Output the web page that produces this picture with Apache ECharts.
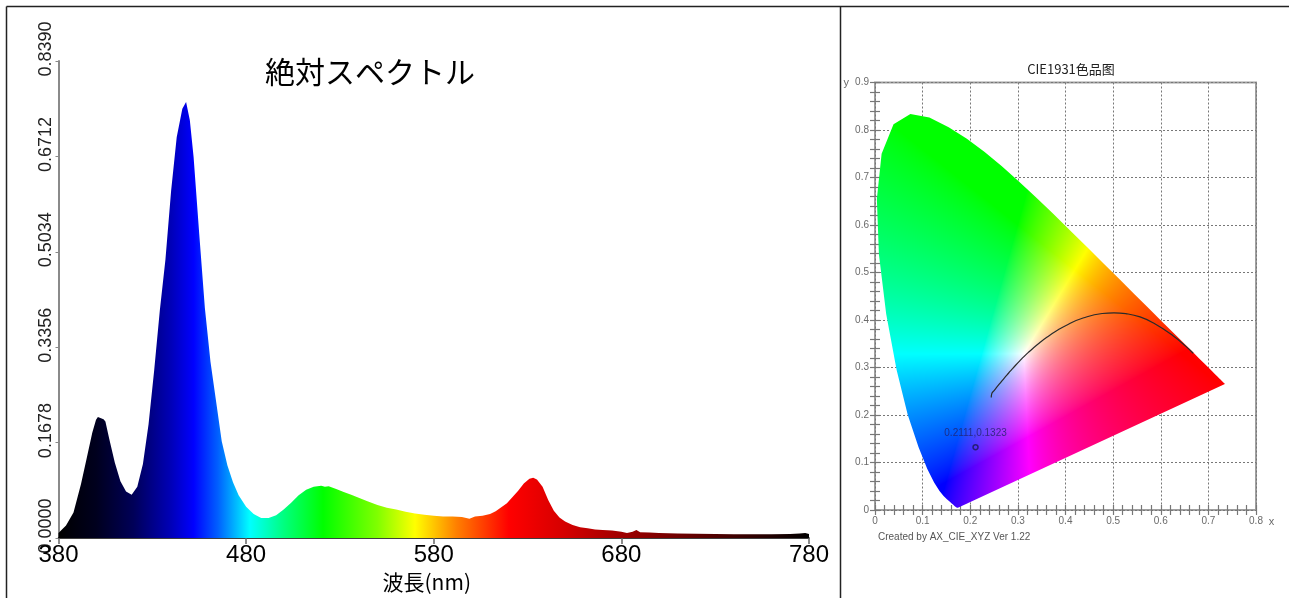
<!DOCTYPE html>
<html><head><meta charset="utf-8">
<script src="https://cdn.jsdelivr.net/npm/echarts@6.0.0/dist/echarts.min.js"></script>
<style>html,body{margin:0;padding:0;background:#fff}#c{width:1289px;height:598px}</style>
</head><body><div id="c"></div>
<script>
// ---- Spectrum (left panel) ----
const wavelengths = [380,384,388,392,395,398,400,401,404,405,407,410,413,416,419,422,425,428,431,434,437,440,443,446,448,450,452,455,458,461,464,467,470,473,476,480,484,488,492,496,500,504,508,512,516,520,522,524,528,532,536,540,545,550,555,560,565,570,575,580,585,590,595,599,602,606,610,613,616,619,622,625,628,631,633,635,638,641,644,647,650,654,658,662,666,670,675,680,683,686,688,690,695,700,710,720,730,740,750,760,770,775,778,780];
const intensity  = [0.009,0.022,0.045,0.095,0.140,0.185,0.208,0.213,0.209,0.205,0.175,0.133,0.100,0.082,0.076,0.090,0.130,0.200,0.295,0.400,0.490,0.610,0.705,0.755,0.767,0.735,0.670,0.535,0.405,0.310,0.240,0.170,0.128,0.098,0.075,0.055,0.042,0.035,0.035,0.040,0.050,0.062,0.075,0.085,0.090,0.092,0.090,0.091,0.086,0.081,0.076,0.071,0.064,0.058,0.053,0.050,0.046,0.043,0.041,0.039,0.038,0.038,0.037,0.034,0.038,0.039,0.042,0.047,0.054,0.061,0.072,0.083,0.096,0.104,0.106,0.103,0.090,0.067,0.048,0.036,0.029,0.023,0.019,0.017,0.015,0.014,0.013,0.011,0.009,0.011,0.014,0.010,0.0095,0.009,0.008,0.0075,0.007,0.0068,0.0065,0.0068,0.007,0.008,0.009,0.007];
const xTickInterval = 100;
const yTickInterval = 0.1678;
const yMax = 0.8390;
const spectrumTitle = '絶対スペクトル';
const spectrumXName = '波長(nm)';
// colour of each wavelength (for the fill gradient)
const gradWavelengths = [380,400,420,440,452,465,482,500,521,550,570,592,620,650,680,730,780];
const gradColors = ['#000000','#00001e','#000058','#0000b8','#0000ff','#0060ff','#00ffff','#00ff80','#00ff00','#80ff00','#ffff00','#ff8000','#ff0000','#d40000','#a00000','#500000','#000000'];

// ---- CIE 1931 (right panel) ----
const cieTitle = 'CIE1931色品图';
const cieFooter = 'Created by AX_CIE_XYZ Ver 1.22';
const locusX = [0.1741,0.1740,0.1738,0.1736,0.1733,0.1730,0.1726,0.1721,0.1714,0.1703,0.1689,0.1669,0.1644,0.1611,0.1566,0.1510,0.1440,0.1355,0.1241,0.1096,0.0913,0.0687,0.0454,0.0235,0.0082,0.0039,0.0139,0.0389,0.0743,0.1142,0.1547,0.1929,0.2296,0.2658,0.3016,0.3373,0.3731,0.4087,0.4441,0.4788,0.5125,0.5448,0.5752,0.6029,0.6270,0.6482,0.6658,0.6801,0.6915,0.7006,0.7079,0.7140,0.7190,0.7230,0.7260,0.7283,0.7300,0.7311,0.7320,0.7327,0.7334,0.7344,0.7347];
const locusY = [0.0050,0.0050,0.0049,0.0049,0.0048,0.0048,0.0048,0.0048,0.0051,0.0058,0.0069,0.0086,0.0109,0.0138,0.0177,0.0227,0.0297,0.0399,0.0578,0.0868,0.1327,0.2007,0.2950,0.4127,0.5384,0.6548,0.7502,0.8120,0.8338,0.8262,0.8059,0.7816,0.7543,0.7243,0.6923,0.6589,0.6245,0.5896,0.5547,0.5202,0.4866,0.4544,0.4242,0.3965,0.3725,0.3514,0.3340,0.3197,0.3083,0.2993,0.2920,0.2859,0.2809,0.2770,0.2740,0.2717,0.2700,0.2689,0.2680,0.2673,0.2666,0.2656,0.2653];
const planckX = [0.2441,0.2452,0.2501,0.2565,0.2637,0.2719,0.2807,0.2869,0.2952,0.3064,0.3135,0.3221,0.3325,0.3451,0.3608,0.3805,0.4053,0.4369,0.4770,0.5018,0.5267,0.5565,0.5857,0.6251,0.6528,0.6680];
const planckY = [0.2370,0.2450,0.2513,0.2595,0.2683,0.2783,0.2884,0.2956,0.3048,0.3165,0.3236,0.3318,0.3411,0.3516,0.3636,0.3768,0.3907,0.4041,0.4137,0.4151,0.4133,0.4065,0.3931,0.3674,0.3444,0.3300];
const samplePoint = [0.2111, 0.1323];
const sampleLabel = '0.2111,0.1323';

const chart = echarts.init(document.getElementById('c'));

function xyToRGB(x, y) {
  if (y <= 0.0001) return [0,0,255];
  const X = x / y, Y = 1, Z = (1 - x - y) / y;
  let r =  3.2406*X - 1.5372*Y - 0.4986*Z;
  let g = -0.9689*X + 1.8758*Y + 0.0415*Z;
  let b =  0.0557*X - 0.2040*Y + 1.0570*Z;
  r = Math.max(0, r); g = Math.max(0, g); b = Math.max(0, b);
  const m = Math.max(r, g, b) || 1;
  const gam = c => Math.pow(c / m, 0.75);
  return [Math.round(255*gam(r)), Math.round(255*gam(g)), Math.round(255*gam(b))];
}

function renderLocus(params, api) {
  const pts = locusX.map((x, i) => api.coord([x, locusY[i]]));
  let minX = Infinity, minY = Infinity, maxX = -Infinity, maxY = -Infinity;
  pts.forEach(p => { minX = Math.min(minX, p[0]); maxX = Math.max(maxX, p[0]); minY = Math.min(minY, p[1]); maxY = Math.max(maxY, p[1]); });
  minX = Math.floor(minX) - 1; minY = Math.floor(minY) - 1; maxX = Math.ceil(maxX) + 1; maxY = Math.ceil(maxY) + 1;
  const w = maxX - minX, h = maxY - minY;
  const o = api.coord([0, 0]), e = api.coord([0.8, 0.9]);
  const sx = (e[0] - o[0]) / 0.8, sy = (e[1] - o[1]) / 0.9;
  const cv = document.createElement('canvas');
  cv.width = w; cv.height = h;
  const ctx = cv.getContext('2d');
  const img = ctx.createImageData(w, h);
  for (let j = 0; j < h; j++) {
    const cy = (minY + j + 0.5 - o[1]) / sy;
    for (let i = 0; i < w; i++) {
      const cx = (minX + i + 0.5 - o[0]) / sx;
      const c = xyToRGB(cx, cy);
      const k = (j * w + i) * 4;
      img.data[k] = c[0]; img.data[k+1] = c[1]; img.data[k+2] = c[2]; img.data[k+3] = 255;
    }
  }
  ctx.putImageData(img, 0, 0);
  ctx.globalCompositeOperation = 'destination-in';
  ctx.beginPath();
  pts.forEach((p, i) => { if (i === 0) ctx.moveTo(p[0] - minX, p[1] - minY); else ctx.lineTo(p[0] - minX, p[1] - minY); });
  ctx.closePath();
  ctx.fillStyle = '#000';
  ctx.fill();
  return { type: 'image', style: { image: cv, x: minX, y: minY, width: w, height: h } };
}

const gradStops = gradWavelengths.map((wl, i) => ({ offset: (wl - 380) / 400, color: gradColors[i] }));
const cieLabelColor = '#6a6a6a';
const cieTick = { show: true, inside: true, length: 5, lineStyle: { color: '#777', width: 1.2 } };
const cieMinor = { show: true, splitNumber: 5, length: 5, lineStyle: { color: '#777', width: 1.2 } };

chart.setOption({
  animation: false,
  backgroundColor: '#fff',
  title: [
    { text: spectrumTitle, left: 365, top: 52, textAlign: 'center',
      textStyle: { fontFamily: 'Noto Sans CJK JP', fontSize: 30, fontWeight: 'normal', color: '#000' } },
    { text: cieTitle, left: 1066, top: 58, textAlign: 'center',
      textStyle: { fontFamily: 'Noto Sans CJK SC', fontSize: 13, fontWeight: 'normal', color: '#222' } },
    { text: cieFooter, left: 873, top: 527,
      textStyle: { fontFamily: 'Liberation Sans', fontSize: 10, fontWeight: 'normal', color: '#555' } }
  ],
  grid: [
    { left: 58.5, top: 61, width: 750.5, height: 477, containLabel: false, outerBoundsMode: 'none' },
    { left: 875, top: 82.5, width: 381, height: 427.5, containLabel: false, outerBoundsMode: 'none',
      show: true, borderColor: '#a0a0a0', borderWidth: 2, backgroundColor: 'transparent' }
  ],
  xAxis: [
    { type: 'value', gridIndex: 0, min: 380, max: 780, interval: xTickInterval,
      name: spectrumXName, nameLocation: 'middle', nameGap: 30,
      nameTextStyle: { fontFamily: 'Noto Sans CJK JP', fontSize: 21, color: '#000', padding: [0, 14, 0, 0] },
      axisLine: { show: true, lineStyle: { color: '#000', width: 1.5 } },
      axisTick: { show: true, length: 6, lineStyle: { color: '#666', width: 1.5 } },
      axisLabel: { fontFamily: 'Liberation Sans', fontSize: 24, color: '#000', margin: 5 },
      splitLine: { show: false } },
    { type: 'value', gridIndex: 1, min: 0, max: 0.8, interval: 0.1, position: 'bottom',
      name: 'x', nameLocation: 'end', nameGap: 12,
      nameTextStyle: { fontFamily: 'Liberation Sans', fontSize: 11, color: cieLabelColor, verticalAlign: 'top', padding: [6, 0, 0, 0] },
      axisLine: { show: false }, axisTick: cieTick, minorTick: cieMinor,
      axisLabel: { fontFamily: 'Liberation Sans', fontSize: 10, color: cieLabelColor, margin: 6 },
      splitLine: { show: true, lineStyle: { color: '#777', width: 1, type: [2, 2] } } },
    { type: 'value', gridIndex: 1, min: 0, max: 0.8, interval: 0.1, position: 'top',
      axisLine: { show: false }, axisTick: cieTick, minorTick: cieMinor,
      axisLabel: { show: false }, splitLine: { show: false } }
  ],
  yAxis: [
    { type: 'value', gridIndex: 0, min: 0, max: yMax, interval: yTickInterval,
      axisLine: { show: true, lineStyle: { color: '#8a8a8a', width: 2 } },
      axisTick: { show: true, length: 3, lineStyle: { color: '#888', width: 1 } },
      axisLabel: { rotate: 90, align: 'center', verticalAlign: 'bottom', padding: [0, 0, 0, 24], margin: 3,
        fontFamily: 'Liberation Sans', fontSize: 18, color: '#222', formatter: v => v.toFixed(4) },
      splitLine: { show: false } },
    { type: 'value', gridIndex: 1, min: 0, max: 0.9, interval: 0.1, position: 'left',
      axisLine: { show: false }, axisTick: cieTick, minorTick: cieMinor,
      axisLabel: { fontFamily: 'Liberation Sans', fontSize: 10, color: cieLabelColor, margin: 6,
        formatter: v => (Math.abs(v - 0.9) < 1e-6 ? '{n|y}' + String(+v.toFixed(1)) : String(+v.toFixed(1))),
        rich: { n: { fontFamily: 'Liberation Sans', fontSize: 11, color: cieLabelColor, padding: [0, 6, 0, 0] } } },
      splitLine: { show: true, lineStyle: { color: '#777', width: 1, type: [2, 2] } } },
    { type: 'value', gridIndex: 1, min: 0, max: 0.9, interval: 0.1, position: 'right',
      axisLine: { show: false }, axisTick: cieTick, minorTick: cieMinor,
      axisLabel: { show: false }, splitLine: { show: false } }
  ],
  series: [
    { type: 'line', xAxisIndex: 0, yAxisIndex: 0, symbol: 'none', smooth: false,
      data: wavelengths.map((w, i) => [w, intensity[i]]),
      lineStyle: { width: 0 },
      areaStyle: { opacity: 1, color: new echarts.graphic.LinearGradient(0, 0, 1, 0, gradStops) } },
    { type: 'custom', xAxisIndex: 1, yAxisIndex: 1, silent: true, clip: false,
      data: [[0.3, 0.3]], renderItem: renderLocus },
    { type: 'line', xAxisIndex: 1, yAxisIndex: 1, symbol: 'none', smooth: true, silent: true,
      data: planckX.map((x, i) => [x, planckY[i]]),
      lineStyle: { color: '#2a2a2a', width: 1.2 } },
    { type: 'scatter', xAxisIndex: 1, yAxisIndex: 1, symbol: 'circle', symbolSize: 5,
      data: [samplePoint],
      itemStyle: { color: 'rgba(0,0,0,0)', borderColor: '#1a1a55', borderWidth: 1.5 },
      label: { show: true, position: 'top', distance: 6, formatter: sampleLabel,
        fontFamily: 'Liberation Sans', fontSize: 10, color: '#22226a' } }
  ],
  graphic: [
    { type: 'line', shape: { x1: 6.5, y1: 6.5, x2: 1289, y2: 6.5 }, style: { stroke: '#222', lineWidth: 1.5 } },
    { type: 'line', shape: { x1: 6.5, y1: 6.5, x2: 6.5, y2: 598 }, style: { stroke: '#222', lineWidth: 1.5 } },
    { type: 'line', shape: { x1: 840.5, y1: 6.5, x2: 840.5, y2: 598 }, style: { stroke: '#222', lineWidth: 1.5 } }
  ]
});
</script></body></html>
